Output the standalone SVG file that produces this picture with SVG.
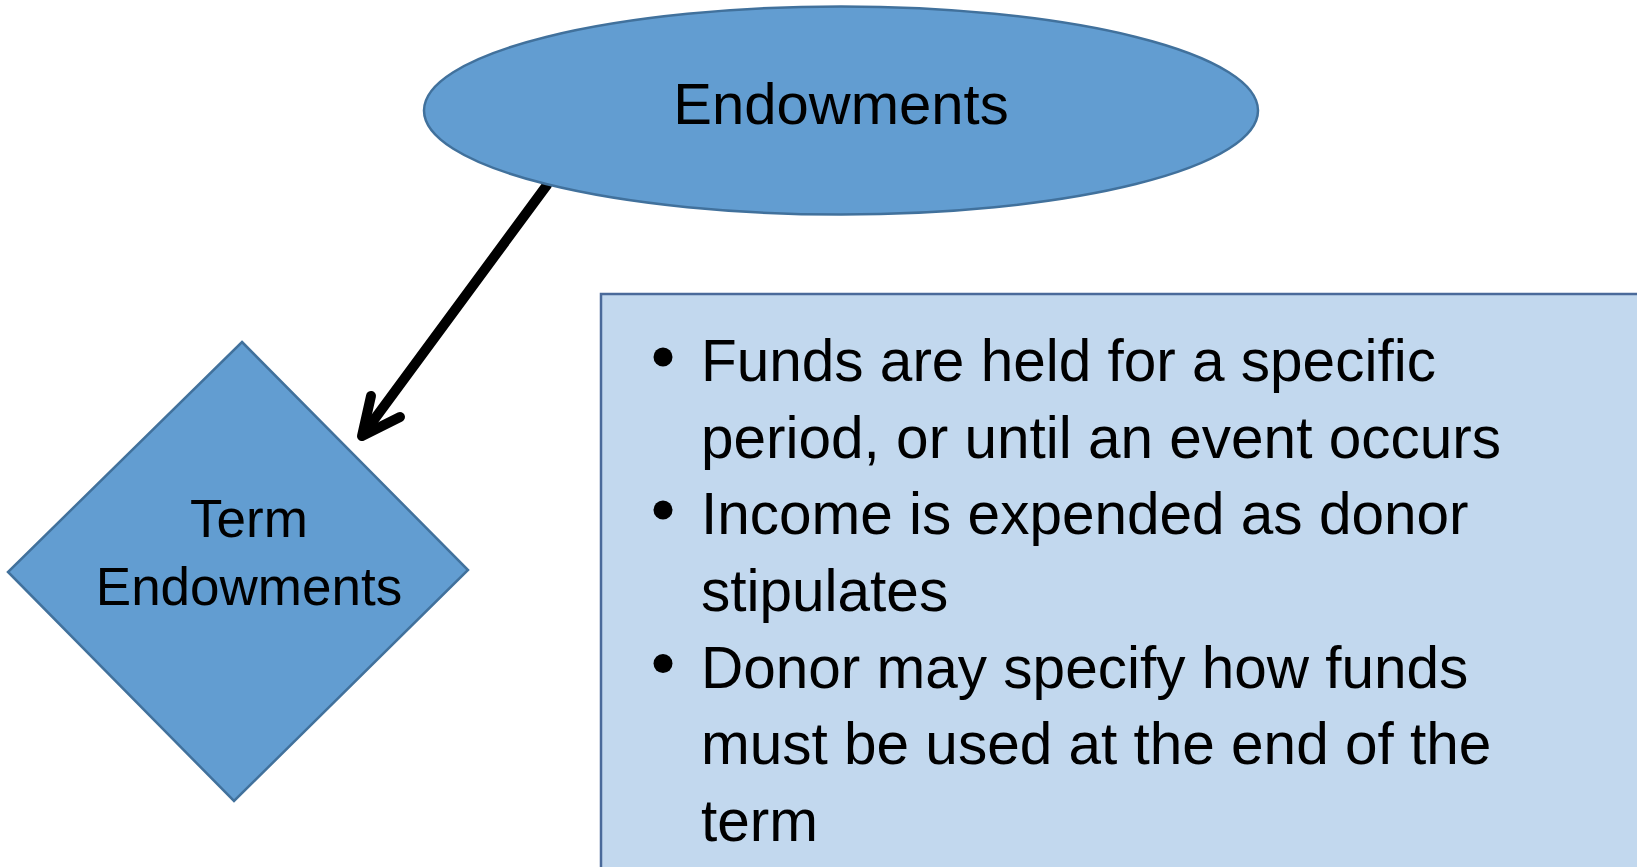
<svg xmlns="http://www.w3.org/2000/svg" width="1637" height="867" viewBox="0 0 1637 867">
  <style>
    .shape { fill: #629DD1; stroke: #41719C; stroke-width: 2.5; }
    .note { fill: #C2D8EE; stroke: #4A6A9A; stroke-width: 2.5; }
    .label { font-family: "Liberation Sans", Arial, sans-serif; fill: #000000; }
    .conn { fill: none; stroke: #000000; stroke-width: 10; stroke-linecap: round; stroke-linejoin: round; }
    .bullet { fill: #000000; }
  </style>
  <rect x="0" y="0" width="1637" height="867" fill="#FFFFFF"/>

  <g id="connectors">
    <path class="conn" d="M547,185 L365,432"/>
    <path class="conn" d="M371,396 L362,436 L400,417"/>
  </g>

  <g id="node-endowments">
    <ellipse class="shape" cx="841" cy="110.5" rx="417" ry="104"/>
    <text class="label" x="841" y="124" font-size="58" text-anchor="middle">Endowments</text>
  </g>

  <g id="node-term-endowments">
    <polygon class="shape" points="242,342 468,570 234,801 8,572"/>
    <text class="label" x="249" y="537" font-size="53" text-anchor="middle">Term</text>
    <text class="label" x="249" y="605" font-size="53" text-anchor="middle">Endowments</text>
  </g>

  <g id="node-details">
    <rect class="note" x="601" y="294" width="1100" height="700"/>
    <circle class="bullet" cx="663" cy="357" r="9.5"/>
    <circle class="bullet" cx="663" cy="510" r="9.5"/>
    <circle class="bullet" cx="663" cy="663.5" r="9.5"/>
    <g class="label" font-size="58.5">
      <text x="701" y="381">Funds are held for a specific</text>
      <text x="701" y="457.5">period, or until an event occurs</text>
      <text x="701" y="534">Income is expended as donor</text>
      <text x="701" y="611">stipulates</text>
      <text x="701" y="687.5">Donor may specify how funds</text>
      <text x="701" y="764">must be used at the end of the</text>
      <text x="701" y="841">term</text>
    </g>
  </g>
</svg>
